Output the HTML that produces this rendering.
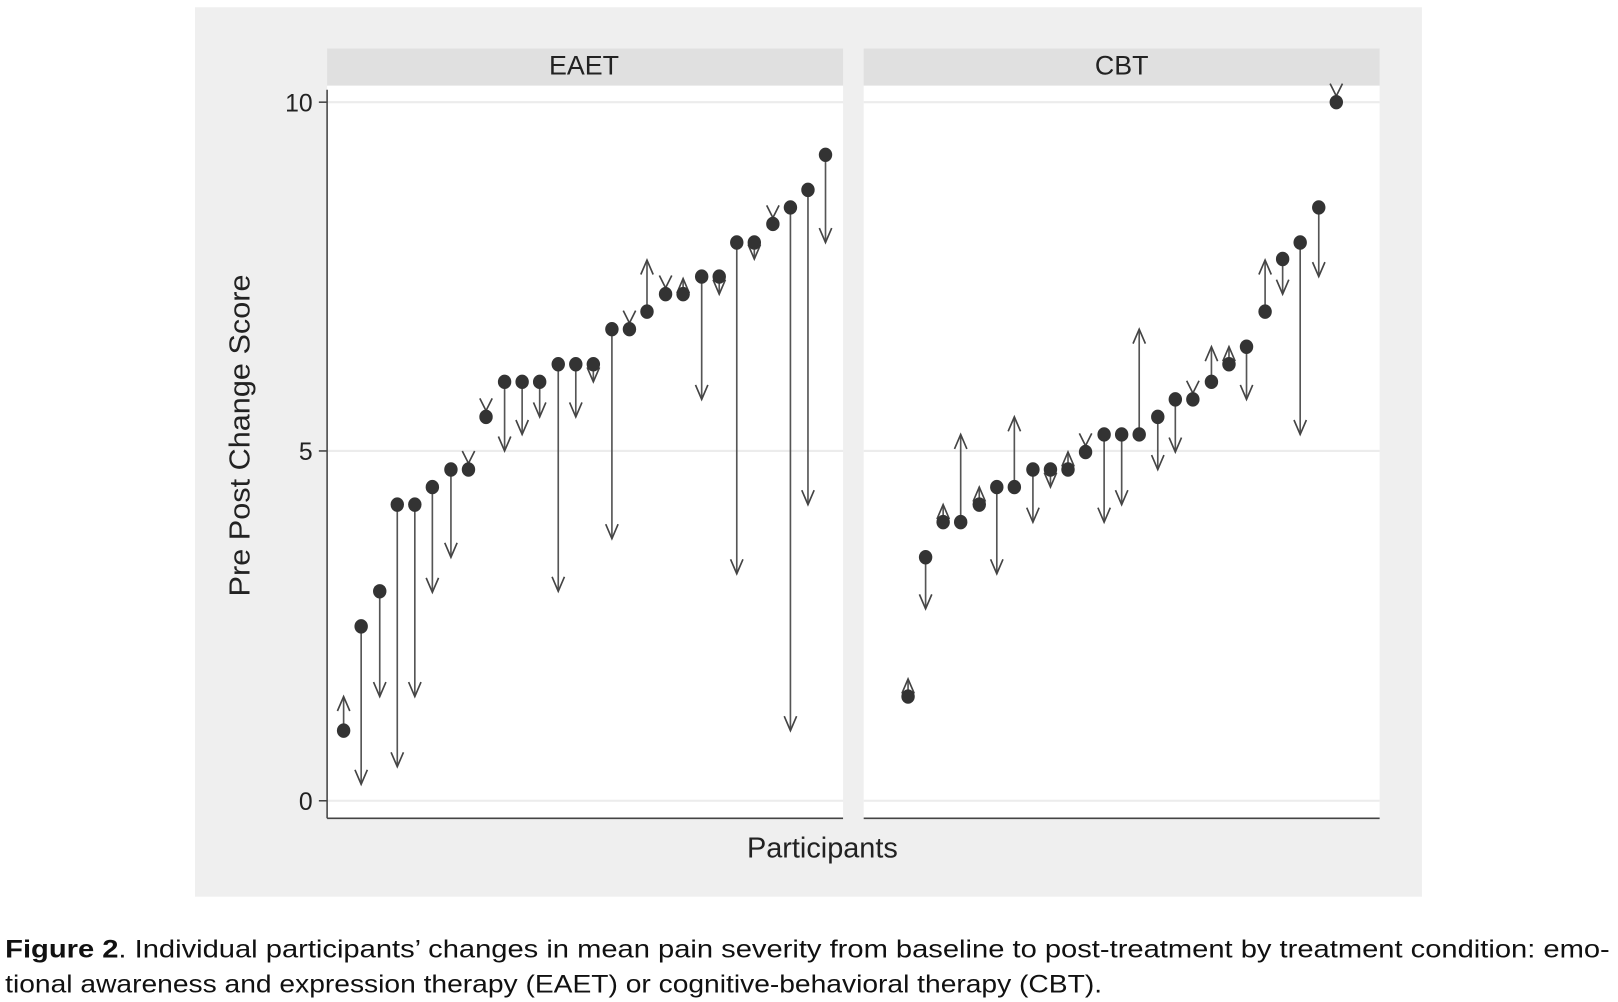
<!DOCTYPE html>
<html><head><meta charset="utf-8"><style>
html,body{margin:0;padding:0;background:#fff;}
svg{display:block;}
</style></head><body>
<svg id="s" width="1618" height="1002" viewBox="0 0 1568 971" xmlns="http://www.w3.org/2000/svg" font-family="Liberation Sans, Arial, sans-serif">
<rect x="189" y="7" width="1189" height="862" fill="#efefef"/>
<rect x="317" y="47" width="500" height="36" fill="#e0e0e0"/>
<rect x="837" y="47" width="500" height="36" fill="#e0e0e0"/>
<rect x="317" y="83" width="500" height="710" fill="#fff"/>
<rect x="837" y="83" width="500" height="710" fill="#fff"/>
<g stroke="#ececec" stroke-width="2">
<line x1="317" y1="99" x2="817" y2="99"/><line x1="317" y1="437" x2="817" y2="437"/><line x1="317" y1="776" x2="817" y2="776"/>
<line x1="837" y1="99" x2="1337" y2="99"/><line x1="837" y1="437" x2="1337" y2="437"/><line x1="837" y1="776" x2="1337" y2="776"/>
</g>
<g stroke="#444" stroke-width="1.5">
<line x1="317" y1="87" x2="317" y2="793"/>
<line x1="317" y1="793" x2="817" y2="793"/>
<line x1="837" y1="793" x2="1337" y2="793"/>
<line x1="309" y1="99" x2="317" y2="99"/><line x1="309" y1="437" x2="317" y2="437"/><line x1="309" y1="776" x2="317" y2="776"/>
</g>
<g fill="#222" font-size="24" text-anchor="end">
<text x="303" y="108">10</text><text x="303" y="446">5</text><text x="303" y="785">0</text>
</g>
<text x="566" y="72" font-size="26" text-anchor="middle" fill="#222">EAET</text>
<text x="1087" y="72" font-size="26" text-anchor="middle" fill="#222">CBT</text>
<text transform="translate(242,422) rotate(-90)" font-size="28" text-anchor="middle" fill="#222" textLength="312" lengthAdjust="spacingAndGlyphs">Pre Post Change Score</text>
<text x="797" y="831" font-size="28" text-anchor="middle" fill="#222">Participants</text>
<text x="5" y="928" font-size="24" fill="#111" textLength="1555" lengthAdjust="spacingAndGlyphs"><tspan font-weight="bold">Figure 2</tspan>. Individual participants’ changes in mean pain severity from baseline to post-treatment by treatment condition: emo-</text>
<text x="5" y="962" font-size="24" fill="#111" textLength="1063" lengthAdjust="spacingAndGlyphs">tional awareness and expression therapy (EAET) or cognitive-behavioral therapy (CBT).</text>
<g id="d"></g>
</svg>
<script>
var data=[[333,708,675],[350,607,760],[368,573,675],[385,489,743],[402,489,675],[419,472,574],[437,455,540],[454,455,null],[471,404,null],[489,370,437],[506,370,421],[523,370,404],[541,353,573],[558,353,404],[575,353,370],[593,319,522],[610,319,null],[627,302,252],[645,285,null],[662,285,270],[680,268,387],[697,268,285],[714,235,556],[731,235,251],[749,217,null],[766,201,708],[783,184,489],[800,150,235],
[880,675,658],[897,540,590],[914,506,489],[931,506,421],[949,489,472],[966,472,556],[983,472,404],[1001,455,506],[1018,455,472],[1035,455,438],[1052,438,null],[1070,421,506],[1087,421,489],[1104,421,319],[1122,404,455],[1139,387,438],[1156,387,null],[1174,370,336],[1191,353,336],[1208,336,387],[1226,302,252],[1243,251,285],[1260,235,421],[1278,201,268],[1295,99,null]];
var g=document.getElementById('d'),h='';
data.forEach(function(p){var x=p[0],y=p[1],e=p[2];
if(e===null){h+='<path d="M'+(x-6)+' '+(y-18)+' L'+x+' '+(y-6)+' L'+(x+6)+' '+(y-18)+'" fill="none" stroke="#444" stroke-width="1.6"/>';}
else{var dir=e>y?1:-1;h+='<line x1="'+x+'" y1="'+y+'" x2="'+x+'" y2="'+e+'" stroke="#555" stroke-width="1.6"/>';
h+='<path d="M'+(x-6)+' '+(e-dir*14)+' L'+x+' '+e+' L'+(x+6)+' '+(e-dir*14)+'" fill="none" stroke="#444" stroke-width="1.6"/>';}
h+='<ellipse cx="'+x+'" cy="'+y+'" rx="6.5" ry="7" fill="#333"/>';});
g.innerHTML=h;
</script>
</body></html>
